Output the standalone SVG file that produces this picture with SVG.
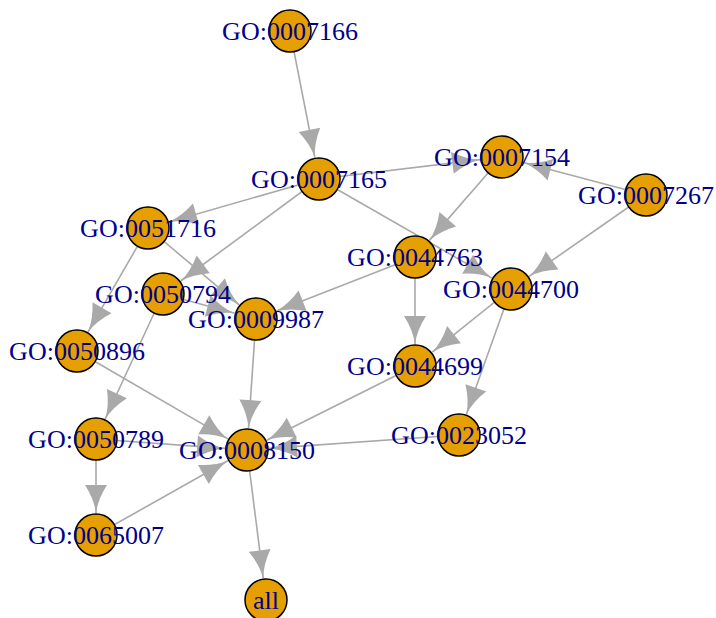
<svg xmlns="http://www.w3.org/2000/svg" width="716" height="618" viewBox="0 0 716 618">
<defs>
<marker id="arr" markerUnits="userSpaceOnUse" viewBox="0 0 31 24" markerWidth="31" markerHeight="24" refX="30" refY="12" orient="auto">
<path d="M30,12 Q16,10 2,1 L2,23 Q16,14 30,12 Z" fill="#A9A9A9"/>
</marker>
</defs>
<style>
.e{stroke:#A9A9A9;stroke-width:1.6;fill:none;marker-end:url(#arr)}
.n circle{fill:#E69F00;stroke:#000;stroke-width:1.5}
.n text{font-family:"Liberation Serif","Times New Roman",serif;font-size:26px;fill:#00008B;text-anchor:middle}
</style>
<rect width="716" height="618" fill="#fff"/>
<g id="edges">
<line class="e" x1="290" y1="31" x2="314.8" y2="157.4"/>
<line class="e" x1="319" y1="179" x2="480.2" y2="159.6"/>
<line class="e" x1="646" y1="195" x2="523.3" y2="162.6"/>
<line class="e" x1="319" y1="179" x2="169.1" y2="221.9"/>
<line class="e" x1="319" y1="179" x2="180.7" y2="281.0"/>
<line class="e" x1="319" y1="179" x2="491.9" y2="278.1"/>
<line class="e" x1="502" y1="157" x2="429.4" y2="240.4"/>
<line class="e" x1="646" y1="195" x2="529.1" y2="276.4"/>
<line class="e" x1="148" y1="228" x2="88.0" y2="331.9"/>
<line class="e" x1="148" y1="228" x2="239.2" y2="304.8"/>
<line class="e" x1="163" y1="294" x2="234.8" y2="313.3"/>
<line class="e" x1="415" y1="257" x2="276.5" y2="311.0"/>
<line class="e" x1="415" y1="257" x2="415" y2="344"/>
<line class="e" x1="511" y1="289" x2="432.2" y2="352.2"/>
<line class="e" x1="511" y1="289" x2="466.4" y2="414.3"/>
<line class="e" x1="163" y1="294" x2="105.2" y2="419.0"/>
<line class="e" x1="77" y1="351" x2="228.0" y2="438.9"/>
<line class="e" x1="256" y1="319" x2="248.5" y2="428.1"/>
<line class="e" x1="415" y1="366" x2="266.7" y2="440.2"/>
<line class="e" x1="96" y1="439" x2="225.1" y2="448.4"/>
<line class="e" x1="459" y1="435" x2="269.0" y2="448.4"/>
<line class="e" x1="96" y1="535" x2="227.8" y2="460.8"/>
<line class="e" x1="96" y1="439" x2="96" y2="513"/>
<line class="e" x1="247" y1="450" x2="263.2" y2="578.2"/>
</g>
<g id="GO0007166" class="n"><circle cx="290" cy="31" r="21"/></g>
<g id="GO0007165" class="n"><circle cx="319" cy="179" r="21"/></g>
<g id="GO0007154" class="n"><circle cx="502" cy="157" r="21"/></g>
<g id="GO0007267" class="n"><circle cx="646" cy="195" r="21"/></g>
<g id="GO0051716" class="n"><circle cx="148" cy="228" r="21"/></g>
<g id="GO0044763" class="n"><circle cx="415" cy="257" r="21"/></g>
<g id="GO0044700" class="n"><circle cx="511" cy="289" r="21"/></g>
<g id="GO0050794" class="n"><circle cx="163" cy="294" r="21"/></g>
<g id="GO0009987" class="n"><circle cx="256" cy="319" r="21"/></g>
<g id="GO0050896" class="n"><circle cx="77" cy="351" r="21"/></g>
<g id="GO0044699" class="n"><circle cx="415" cy="366" r="21"/></g>
<g id="GO0050789" class="n"><circle cx="96" cy="439" r="21"/></g>
<g id="GO0008150" class="n"><circle cx="247" cy="450" r="21"/></g>
<g id="GO0023052" class="n"><circle cx="459" cy="435" r="21"/></g>
<g id="GO0065007" class="n"><circle cx="96" cy="535" r="21"/></g>
<g id="all" class="n"><circle cx="266" cy="600" r="21"/></g>
<g id="labels" class="n">
<text x="290" y="40">GO:0007166</text>
<text x="319" y="188">GO:0007165</text>
<text x="502" y="166">GO:0007154</text>
<text x="646" y="204">GO:0007267</text>
<text x="148" y="237">GO:0051716</text>
<text x="415" y="266">GO:0044763</text>
<text x="511" y="298">GO:0044700</text>
<text x="163" y="303">GO:0050794</text>
<text x="256" y="328">GO:0009987</text>
<text x="77" y="360">GO:0050896</text>
<text x="415" y="375">GO:0044699</text>
<text x="96" y="448">GO:0050789</text>
<text x="247" y="459">GO:0008150</text>
<text x="459" y="444">GO:0023052</text>
<text x="96" y="544">GO:0065007</text>
<text x="266" y="609">all</text>
</g>
</svg>
